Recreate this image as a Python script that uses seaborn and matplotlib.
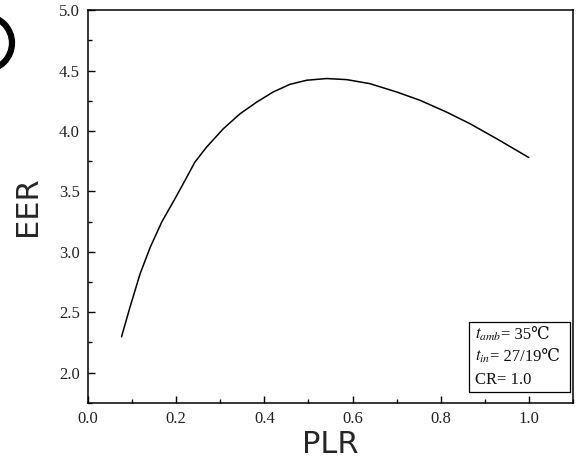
import matplotlib
matplotlib.use("Agg")
import matplotlib.pyplot as plt
from matplotlib.patches import Rectangle, Circle
from matplotlib.ticker import MultipleLocator
from matplotlib.offsetbox import TextArea, HPacker, AnchoredOffsetbox
import seaborn as sns
import pandas as pd

# Part-load ratio vs. energy efficiency ratio
plr = [0.076, 0.095, 0.118, 0.141, 0.167, 0.197, 0.222, 0.242, 0.269,
       0.307, 0.345, 0.383, 0.420, 0.458, 0.496, 0.541, 0.587, 0.639,
       0.700, 0.753, 0.813, 0.866, 0.927, 1.000]
eer = [2.297, 2.540, 2.817, 3.037, 3.245, 3.438, 3.604, 3.740, 3.867,
       4.019, 4.143, 4.240, 4.323, 4.386, 4.420, 4.434, 4.425, 4.392,
       4.323, 4.254, 4.157, 4.061, 3.936, 3.780]

x_ticks = [0.0, 0.2, 0.4, 0.6, 0.8, 1.0]
y_ticks = [2.0, 2.5, 3.0, 3.5, 4.0, 4.5, 5.0]
# (symbol part, value part) of each operating condition
conditions = [(r"$\mathit{t}_{\mathit{amb}}$", "= 35℃"),
              (r"$\mathit{t}_{\mathit{in}}$", "= 27/19℃"),
              ("", "CR= 1.0")]

sns.set_theme(style="ticks")
plt.rcParams["font.family"] = ["Liberation Serif", "DejaVu Serif",
                               "Noto Sans CJK SC", "DejaVu Sans"]
plt.rcParams["mathtext.fontset"] = "stix"

df = pd.DataFrame({"PLR": plr, "EER": eer})

fig = plt.figure(figsize=(5.79, 4.61), dpi=100)
ax = fig.add_axes([0.152, 0.126, 0.8376, 0.852])

sns.lineplot(data=df, x="PLR", y="EER", color="black", linewidth=1.1, ax=ax)

ax.set_xlim(0.0, 1.1)
ax.set_ylim(1.75, 5.0)
ax.set_xticks(x_ticks)
ax.set_yticks(y_ticks)
ax.set_xticklabels([f"{v:.1f}" for v in x_ticks])
ax.set_yticklabels([f"{v:.1f}" for v in y_ticks])
ax.xaxis.set_minor_locator(MultipleLocator(0.1))
ax.yaxis.set_minor_locator(MultipleLocator(0.25))
ax.tick_params(which="both", direction="in", top=False, right=False,
               labelsize=12, width=1.0, color="black", labelcolor="#222222")
ax.tick_params(which="major", length=5, pad=6)
ax.tick_params(which="minor", length=3)
for s in ax.spines.values():
    s.set_visible(True)
    s.set_linewidth(1.1)
    s.set_color("black")

ax.set_xlabel("PLR", fontsize=22, family=["DejaVu Sans"], labelpad=2)
ax.set_ylabel("EER", fontsize=22, family=["DejaVu Sans"], labelpad=12)

# Operating-condition box
ax.add_patch(Rectangle((0.786, 0.028), 0.208, 0.178, transform=ax.transAxes,
                       fill=False, edgecolor="black", linewidth=0.9, zorder=3))
text_props = dict(fontsize=12, color="#111111")
for (sym, val), yy in zip(conditions, [0.173, 0.117, 0.0585]):
    parts = []
    if sym:
        parts.append(TextArea(sym, textprops=text_props))
    parts.append(TextArea(val, textprops=text_props))
    row = HPacker(children=parts, align="baseline", pad=0, sep=0)
    anchored = AnchoredOffsetbox(loc="center left", child=row, pad=0,
                                 borderpad=0, frameon=False,
                                 bbox_to_anchor=(0.798, yy),
                                 bbox_transform=ax.transAxes)
    ax.add_artist(anchored)

# Panel marker ring at the top-left edge
fig.patches.append(Circle((-15, 43), 27, transform=None, fill=False,
                          edgecolor="black", linewidth=4.5))
fig.patches[-1].set_center((-15, 461 - 43))

fig.savefig("out.png", dpi=100)
